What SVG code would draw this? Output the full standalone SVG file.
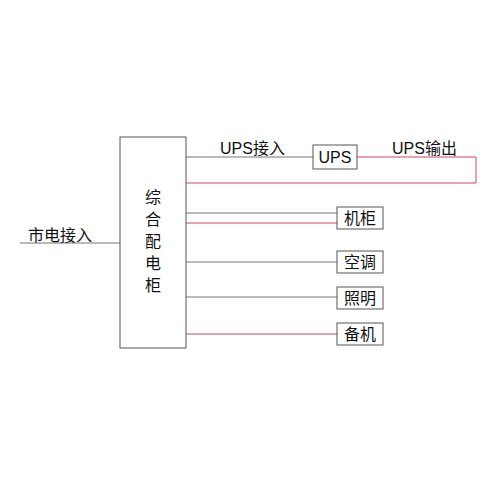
<svg xmlns="http://www.w3.org/2000/svg" width="500" height="500" viewBox="0 0 500 500">
<style>
.box{fill:#fff;stroke:#555;stroke-width:1}
.g{stroke:#777;stroke-width:1;fill:none}
.r{stroke:#d04a62;stroke-width:1;fill:none}
.t{font-family:"Liberation Sans","Noto Sans CJK SC",sans-serif;font-size:16px;fill:#111}
.c{font-family:"Noto Sans CJK SC",sans-serif;font-size:16px;fill:#111;text-anchor:middle}
</style>
<rect width="500" height="500" fill="#fff"/>
<g id="connectors">
<line class="g" x1="20" y1="243" x2="120" y2="243"/>
<line class="g" x1="186" y1="157" x2="313" y2="157"/>
<polyline class="r" points="357,157 476,157 476,183 186,183"/>
<line class="g" x1="186" y1="213" x2="337" y2="213"/>
<line class="r" x1="186" y1="223" x2="337" y2="223"/>
<line class="g" x1="186" y1="262" x2="337" y2="262"/>
<line class="g" x1="186" y1="297" x2="337" y2="297"/>
<line class="r" x1="186" y1="334" x2="337" y2="334"/>
</g>
<g id="labels">
<text class="t" x="28" y="241">市电接入</text>
<text class="t" x="220" y="154">UPS接入</text>
<text class="t" x="392" y="154">UPS输出</text>
</g>
<g id="main">
<rect class="box" x="120" y="137" width="66" height="211"/>
<text x="153" y="189" style="font-family:'Noto Sans CJK SC',sans-serif;font-size:16px;fill:#111;writing-mode:vertical-rl;letter-spacing:6px">综合配电柜</text>
</g>
<g id="ups">
<rect class="box" x="313" y="145" width="44" height="24"/>
<text class="t" x="335" y="163" text-anchor="middle">UPS</text>
</g>
<g id="jigui">
<rect class="box" x="337" y="207" width="46" height="22"/>
<text class="c" x="360" y="224">机柜</text>
</g>
<g id="kongtiao">
<rect class="box" x="337" y="251" width="46" height="22"/>
<text class="c" x="360" y="268">空调</text>
</g>
<g id="zhaoming">
<rect class="box" x="337" y="287" width="46" height="22"/>
<text class="c" x="360" y="304">照明</text>
</g>
<g id="beiji">
<rect class="box" x="337" y="323" width="46" height="22"/>
<text class="c" x="360" y="340">备机</text>
</g>
</svg>
